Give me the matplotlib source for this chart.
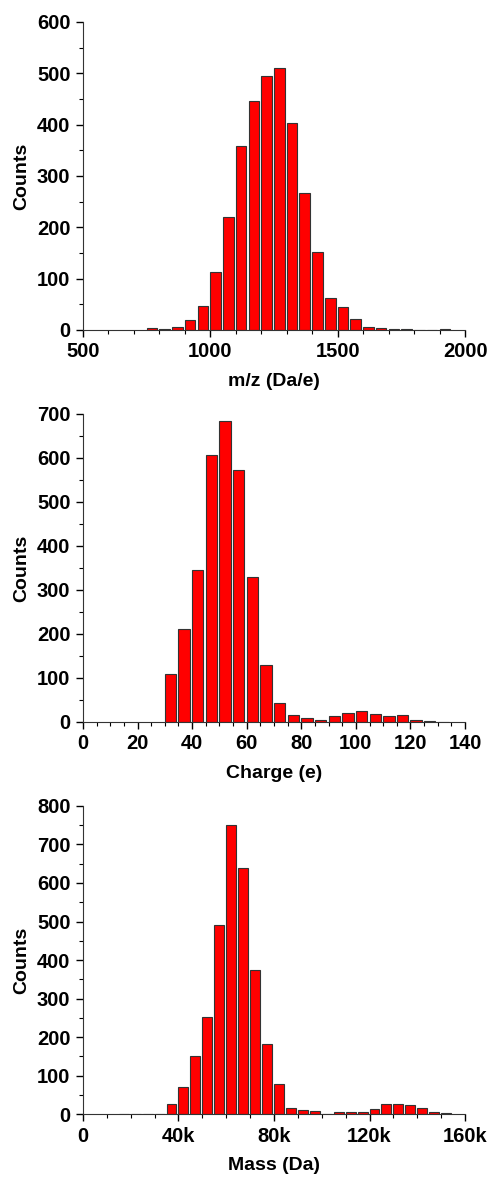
import matplotlib
matplotlib.use("Agg")
from matplotlib import pyplot as plt
from matplotlib.ticker import MultipleLocator, FuncFormatter

plt.rcParams['font.family'] = ['Liberation Sans', 'DejaVu Sans']
plt.rcParams['font.weight'] = 'bold'

# m/z histogram, bin width 50
mz_bins = [750, 800, 850, 900, 950, 1000, 1050, 1100, 1150, 1200, 1250, 1300,
           1350, 1400, 1450, 1500, 1550, 1600, 1650, 1700, 1750, 1800, 1850, 1900]
mz_counts = [3, 2, 5, 20, 47, 113, 220, 359, 445, 494, 511, 404,
             267, 152, 62, 45, 22, 6, 3, 2, 1, 0, 0, 2]

# charge histogram, bin width 5
z_bins = [30, 35, 40, 45, 50, 55, 60, 65, 70, 75, 80, 85, 90, 95, 100,
          105, 110, 115, 120, 125, 130]
z_counts = [109, 212, 345, 606, 685, 573, 330, 129, 43, 15, 10, 4, 14, 20, 25,
            18, 14, 16, 5, 3, 1]

# mass histogram, bin width 5k
m_bins = [15e3, 20e3, 25e3, 30e3, 35e3, 40e3, 45e3, 50e3, 55e3, 60e3, 65e3, 70e3,
          75e3, 80e3, 85e3, 90e3, 95e3, 100e3, 105e3, 110e3, 115e3, 120e3,
          125e3, 130e3, 135e3, 140e3, 145e3, 150e3]
m_counts = [1, 1, 1, 1, 26, 70, 151, 253, 491, 751, 638, 374,
            181, 79, 16, 10, 7, 1, 6, 4, 6, 14, 26, 27, 23, 16, 5, 2]

fig = plt.figure(figsize=(4.88, 11.78), dpi=100)

panels = [
    (mz_bins, mz_counts, 50, (500, 2000), 500, 100, (0, 600), "m/z (Da/e)", 0.7199, None),
    (z_bins, z_counts, 5, (0, 140), 20, 5, (0, 700), "Charge (e)", 0.3871, None),
    (m_bins, m_counts, 5e3, (0, 160e3), 40e3, 10e3, (0, 800), "Mass (Da)", 0.0543,
     FuncFormatter(lambda v, p: "0" if v == 0 else "%dk" % (v / 1000))),
]

for bins, counts, bw, xl, xmaj, xmin, yl, xlabel, bottom, fmt in panels:
    ax = fig.add_axes([0.170, bottom, 0.783, 0.2615])
    ax.bar(bins, counts, width=bw * 0.83, align='edge', color='#ff0000',
           edgecolor='#333333', linewidth=0.8)
    ax.set_xlim(*xl)
    ax.set_ylim(*yl)
    ax.spines['top'].set_visible(False)
    ax.spines['right'].set_visible(False)
    ax.spines['left'].set_color('#333333')
    ax.spines['bottom'].set_color('#333333')
    ax.xaxis.set_major_locator(MultipleLocator(xmaj))
    ax.xaxis.set_minor_locator(MultipleLocator(xmin))
    ax.yaxis.set_major_locator(MultipleLocator(100))
    ax.yaxis.set_minor_locator(MultipleLocator(50))
    if fmt is not None:
        ax.xaxis.set_major_formatter(fmt)
    ax.tick_params(which='major', direction='out', length=5, width=1,
                   labelsize=14.5, pad=4)
    ax.tick_params(which='minor', direction='out', length=3, width=0.8)
    ax.set_xlabel(xlabel, fontsize=14, fontweight='bold', labelpad=8)
    ax.set_ylabel("Counts", fontsize=14, fontweight='bold', labelpad=5)
    for lab in ax.get_xticklabels() + ax.get_yticklabels():
        lab.set_fontweight('bold')

fig.savefig("out.png", dpi=100, facecolor='white')
